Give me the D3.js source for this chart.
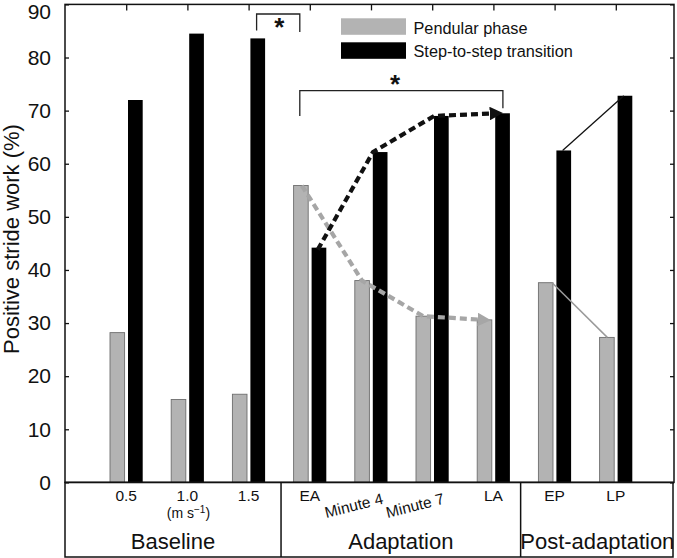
<!DOCTYPE html>
<html><head><meta charset="utf-8">
<script src="https://cdn.jsdelivr.net/npm/d3@7"></script>
<style>body{margin:0;background:#fff}svg{display:block;font-family:"Liberation Sans",Arial,sans-serif}</style>
</head><body><svg id="c" width="677" height="558"></svg>
<script>
const categories = ["0.5","1.0","1.5","EA","Minute 4","Minute 7","LA","EP","LP"];
const pendular   = [28.2,15.6,16.6,55.9,38.0,31.3,30.6,37.6,27.3];
const stepTrans  = [72.0,84.5,83.6,44.2,62.2,69.0,69.5,62.5,72.8];
const yTicks = [0,10,20,30,40,50,60,70,80,90];
const phaseLabels = ["Baseline","Adaptation","Post-adaptation"];
const phaseStart = [0,3,7];
const phaseEnd = [2,6,8];
const seriesNames = ["Pendular phase","Step-to-step transition"];
const adaptIdx = [3,4,5,6];
const postIdx = [7,8];

const svg = d3.select("#c");
const L=65, R=674, T=4.4, B=482.4, BB=557;
const x = d3.scalePoint().domain(categories).range([65,677]).padding(1);
const y = d3.scaleLinear().domain([0,90]).range([B,T]);
const GRAY="#b3b3b3";

// bars
const g = svg.append("g");
g.selectAll(".p").data(categories).join("rect")
  .attr("x",d=>x(d)-16.2).attr("width",14.6)
  .attr("y",(d,i)=>y(pendular[i])).attr("height",(d,i)=>B-y(pendular[i]))
  .attr("fill",GRAY).attr("stroke","#6e6e6e").attr("stroke-width",0.9);
g.selectAll(".s").data(categories).join("rect")
  .attr("x",d=>x(d)+1.8).attr("width",14.7)
  .attr("y",(d,i)=>y(stepTrans[i])).attr("height",(d,i)=>B-y(stepTrans[i]))
  .attr("fill","#000");

// arrow markers
const defs = svg.append("defs");
[["ab","#111"],["ag","#a6a6a6"]].forEach(([id,c])=>{
  defs.append("marker").attr("id",id).attr("viewBox","0 0 10 10").attr("refX",5).attr("refY",5)
    .attr("markerWidth",3.2).attr("markerHeight",3.2).attr("orient","auto").attr("markerUnits","strokeWidth")
    .append("path").attr("d","M0,0L10,5L0,10z").attr("fill",c);
});

// dashed adaptation trends
const line = d3.line().curve(d3.curveLinear);
const blackPts = adaptIdx.map((k,j)=>[x(categories[k])+(j===0?8:2), y(stepTrans[k])+(j===0?2:0)]);
blackPts[blackPts.length-1][0]+=1;
const grayPts = adaptIdx.map((k,j)=>[x(categories[k])-(j===0?8:9), y(pendular[k])]);
svg.append("path").attr("d",line(grayPts)).attr("fill","none").attr("stroke","#a6a6a6")
  .attr("stroke-width",4.2).attr("stroke-dasharray","7,4").attr("stroke-linejoin","round").attr("marker-end","url(#ag)");
svg.append("path").attr("d",line(blackPts)).attr("fill","none").attr("stroke","#111")
  .attr("stroke-width",4.2).attr("stroke-dasharray","7,4").attr("stroke-linejoin","round").attr("marker-end","url(#ab)");

// post-adaptation solid lines
svg.append("line").attr("x1",x(categories[postIdx[0]])+8).attr("y1",y(stepTrans[postIdx[0]]))
  .attr("x2",x(categories[postIdx[1]])+8).attr("y2",y(stepTrans[postIdx[1]])).attr("stroke","#111").attr("stroke-width",1.3);
svg.append("line").attr("x1",x(categories[postIdx[0]])-2.5).attr("y1",y(pendular[postIdx[0]]))
  .attr("x2",x(categories[postIdx[1]])-8.5).attr("y2",y(pendular[postIdx[1]])).attr("stroke","#9a9a9a").attr("stroke-width",1.5);

// frame
svg.append("rect").attr("x",L).attr("y",T).attr("width",R-L).attr("height",B-T)
  .attr("fill","none").attr("stroke","#111").attr("stroke-width",1.5);

// y axis
const ya = svg.append("g").attr("transform",`translate(${L},0)`)
  .call(d3.axisLeft(y).tickValues(yTicks).tickSize(-4).tickPadding(14).tickFormat(d3.format("d")));
ya.select(".domain").remove();
ya.selectAll("line").attr("stroke","#111").attr("stroke-width",1.3);
ya.selectAll("text").attr("font-size",21).attr("fill","#111").attr("font-family","Liberation Sans, Arial, sans-serif");
ya.selectAll(".tick").filter(d=>d===90).select("text").attr("dy","0.32em").attr("transform","translate(0,7)");
const yr = svg.append("g").attr("transform",`translate(${R},0)`)
  .call(d3.axisRight(y).tickValues(yTicks).tickSize(-4).tickFormat(""));
yr.select(".domain").remove();
yr.selectAll("line").attr("stroke","#111").attr("stroke-width",1.3);
// top ticks
const xt = svg.append("g").attr("transform",`translate(0,${T})`)
  .call(d3.axisTop(x).tickSize(-6).tickFormat(""));
xt.select(".domain").remove();
xt.selectAll("line").attr("stroke","#111").attr("stroke-width",1.3);

// y title
svg.append("text").attr("transform","translate(19,239) rotate(-90)").attr("text-anchor","middle")
  .attr("font-size",22).attr("fill","#111").text("Positive stride work (%)");

// bottom category box
svg.append("rect").attr("x",L).attr("y",B).attr("width",R-L-1).attr("height",BB-B)
  .attr("fill","none").attr("stroke","#111").attr("stroke-width",1.5);
const step = x.step();
const dividers = [x(categories[phaseEnd[0]])+step*0.53, x(categories[phaseEnd[1]])+step*0.445];
dividers.forEach(dx=>svg.append("line").attr("x1",dx).attr("x2",dx).attr("y1",B).attr("y2",BB)
  .attr("stroke","#111").attr("stroke-width",1.5));
const bounds = [L, ...dividers, R];
phaseLabels.forEach((p,i)=>{
  svg.append("text").attr("x",(bounds[i]+bounds[i+1])/2).attr("y",549).attr("text-anchor","middle")
    .attr("font-size",22).attr("fill","#111").text(p);
});
// category tick labels
categories.forEach((c,i)=>{
  if (c.startsWith("Minute")) {
    svg.append("text").attr("transform",`translate(${x(c)+13},${503.5}) rotate(-14)`)
      .attr("text-anchor","end").attr("font-size",15.5).attr("fill","#111").text(c);
  } else {
    svg.append("text").attr("x",x(c)).attr("y",501).attr("text-anchor","middle")
      .attr("font-size",15.5).attr("fill","#111").text(c);
  }
});
const unit = svg.append("text").attr("x",x(categories[1])+1).attr("y",518).attr("text-anchor","middle")
  .attr("font-size",14).attr("fill","#111");
unit.append("tspan").text("(m s");
unit.append("tspan").attr("dy",-5).attr("font-size",10).text("\u22121");
unit.append("tspan").attr("dy",5).text(")");

// legend
const leg = svg.append("g");
[GRAY,"#000"].forEach((c,i)=>{
  leg.append("rect").attr("x",341).attr("y",18.3+i*24).attr("width",65).attr("height",16.5).attr("fill",c);
  leg.append("text").attr("x",413.5).attr("y",33.5+i*23.5).attr("font-size",16.3).attr("fill","#111").text(seriesNames[i]);
});

// significance brackets
function bracket(x1,x2,yt,y1,y2,sx,sy){
  svg.append("path").attr("d",`M${x1},${y1}V${yt}H${x2}V${y2}`).attr("fill","none")
    .attr("stroke","#222").attr("stroke-width",1.3);
  svg.append("text").attr("x",sx).attr("y",sy).attr("text-anchor","middle").attr("font-size",26)
    .attr("font-weight","bold").attr("fill","#111").text("*");
}
const xEAg = x("EA")-10;
bracket(x("1.5")+8, xEAg, 14, 30.5, 32, (x("1.5")+8+xEAg)/2+1, 36);
bracket(xEAg, x("LA")+9.5, 90.7, 116, 108.3, 395, 93);
</script></body></html>
